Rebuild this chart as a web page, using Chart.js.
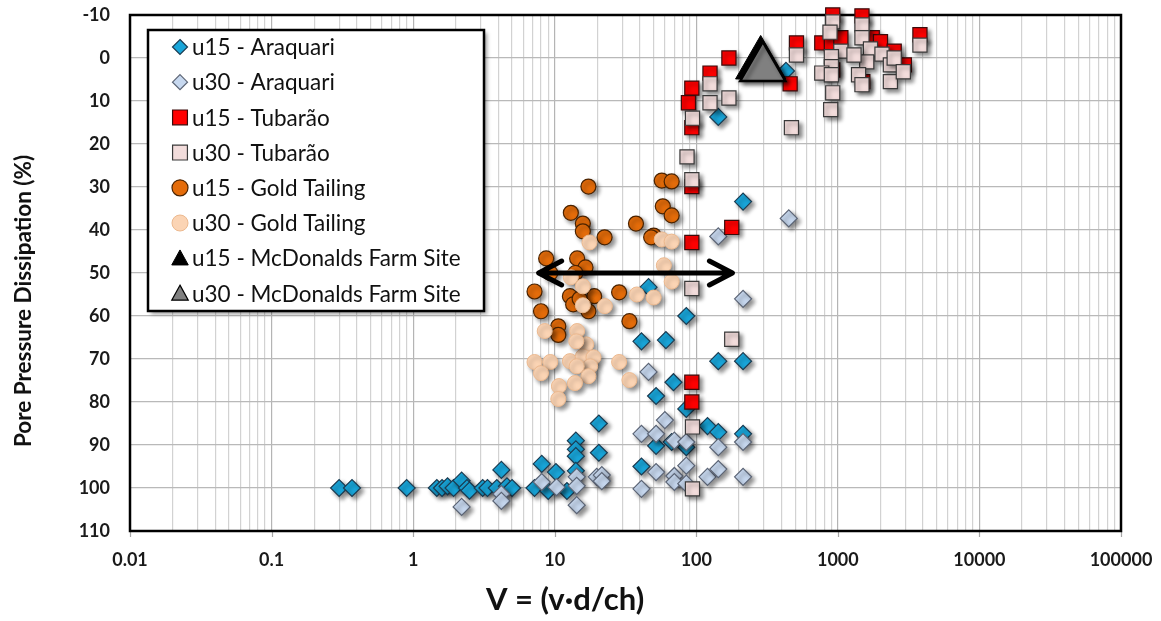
<!DOCTYPE html>
<html>
<head>
<meta charset="utf-8">
<title>Pore Pressure Dissipation vs V</title>
<script src="https://cdn.jsdelivr.net/npm/chart.js@4.4.1/dist/chart.umd.min.js"></script>
<style>
  html, body { margin: 0; padding: 0; background: #ffffff; }
  canvas { display: block; }
</style>
</head>
<body>
<canvas id="chart" width="1161" height="621"></canvas>
<script>
// ---- series names ----
const seriesNames = [
  'u15 - Araquari', 'u30 - Araquari',
  'u15 - Tubarão', 'u30 - Tubarão',
  'u15 - Gold Tailing', 'u30 - Gold Tailing',
  'u15 - McDonalds Farm Site', 'u30 - McDonalds Farm Site'
];

// ---- data: normalised velocity V and pore pressure dissipation (%) ----
const u15AraquariV = [0.30, 0.37, 0.9, 1.47, 1.6, 1.75, 1.93, 2.2, 2.4, 2.5, 3.1, 3.35, 3.9, 4.2, 4.6, 5.0, 7.2, 8.1, 9.0, 10.2, 12.2, 14.1, 14.1, 14.1, 14.1, 20.5, 20.5, 41, 52, 67, 85, 85, 120, 143, 214, 85, 41, 61, 143, 214, 69, 52, 214, 46, 430, 143];
const u15AraquariU = [100, 100, 100, 100, 100, 99.6, 100, 98.3, 100, 100.6, 100, 100, 100, 95.8, 99.6, 100, 100, 94.4, 100.7, 96.3, 100.7, 89, 91, 92.6, 96, 85, 91.8, 95, 90.2, 89.3, 90.5, 81.6, 85.6, 87, 87.4, 60, 65.9, 65.6, 70.5, 70.5, 75.4, 78.6, 33.4, 53.3, 3, 13.7];

const u30AraquariV = [2.2, 4.2, 4.2, 8.1, 10.3, 14.3, 14.3, 14.3, 19.8, 21.5, 21.5, 41, 52, 60, 41, 52, 70, 70, 70, 85, 85, 85, 120, 143, 143, 214, 214, 214, 46, 143, 450];
const u30AraquariU = [104.4, 101.4, 103, 98.6, 99.8, 97.4, 99.5, 104, 97.4, 97, 98.4, 87.4, 87.4, 84.2, 100.2, 96.3, 89, 97.2, 98.6, 89.3, 94.8, 99, 97.4, 95.6, 90.5, 89.3, 97.4, 56, 73, 41.5, 37.3];

const u15TubaraoV = [93, 178, 93, 93, 93, 93, 88, 93, 125, 170, 460, 510, 920, 770, 900, 1050, 1480, 1750, 2000, 2500, 2950, 3800, 920, 1500];
const u15TubaraoU = [42.9, 39.4, 29.9, 75.4, 80, 7, 10.4, 16.2, 3.5, 0, 6, -3.5, -10, -3.5, -3.3, -4.7, -9.8, -4.7, -3.8, -1.6, 1.6, -5.4, 2.8, 5.5];

const u30TubaraoV = [93, 93, 86, 178, 94, 94, 94, 125, 125, 170, 510, 470, 920, 880, 1050, 900, 900, 770, 900, 920, 1480, 1480, 1700, 1600, 1400, 1480, 2050, 2350, 2350, 2500, 2900, 3800, 1300, 890];
const u30TubaraoU = [28.3, 53.6, 23, 65.4, 85.8, 100.2, 14, 6, 10.4, 9.3, -0.7, 16.2, -8.4, -6, -1.6, -0.3, 2, 3.5, 3.9, 8.1, -7.7, -4.7, -2.1, 0.9, 3.9, 6.2, -0.9, 1.6, 5.5, 0, 3.2, -3, -0.7, 12];

const u15GoldV = [17.3, 57, 67, 58, 67, 13, 15.8, 15.8, 22.5, 37.5, 50, 48, 8.7, 14.4, 16.5, 14, 9.3, 7.2, 12.8, 19, 28.5, 8.0, 13.5, 17.3, 33.7, 10.6, 10.6, 15];
const u15GoldU = [29.9, 28.5, 28.7, 34.5, 36.6, 36, 38.5, 40.3, 41.7, 38.5, 41.3, 41.7, 46.6, 46.6, 48.7, 50, 50, 54.3, 55.4, 55.4, 54.5, 58.9, 57.3, 58.9, 61.2, 62.4, 64.4, 56];

const u30GoldV = [17.6, 57, 67, 59, 67, 38, 50, 13, 15.8, 15.8, 22.6, 8.5, 14.4, 16.7, 7.2, 9.3, 8, 12.8, 15.8, 18.8, 17.8, 14.3, 17.3, 28.5, 33.7, 10.7, 13.9, 10.6, 14.2];
const u30GoldU = [42.9, 42.2, 42.7, 48.2, 52, 55, 55.7, 51, 53.1, 57.5, 57.7, 63.5, 63.5, 66.6, 70.7, 70.7, 73.3, 70.5, 69.4, 69.6, 71.7, 71.7, 74, 70.7, 74.9, 76.3, 75.6, 79.3, 65.9];

const u15McDonaldsV = [285];
const u15McDonaldsU = [1.5];
const u30McDonaldsV = [295];
const u30McDonaldsU = [2.3];

// ---- axis tick labels ----
const xDecadeLabels = ['0.01', '0.1', '1', '10', '100', '1000', '10000', '100000'];
const xMinorMultiples = [2, 3, 4, 5, 6, 7, 8, 9];
const yTickStep = 10;
const yRange = [-10, 110];

// ---- annotation arrow (in data units) ----
const arrowSpanV = [7.7, 180];
const arrowLevelU = 50;

// ---- marker appearance per series ----
const markerStyles = [
  { shape: 'rectRot',  radius: 8.5, fill: '#19a6da', line: '#1b3c52', width: 1.2 },
  { shape: 'rectRot',  radius: 8.5, fill: '#c7d8ef', line: '#5b6475', width: 1.2 },
  { shape: 'rect',     radius: 10,  fill: '#ff0000', line: '#3b0b0b', width: 1.2 },
  { shape: 'rect',     radius: 10,  fill: '#f2dcdb', line: '#3a3a3a', width: 1.2 },
  { shape: 'circle',   radius: 7.5, fill: '#e46c0a', line: '#4a2300', width: 1.2 },
  { shape: 'circle',   radius: 7.5, fill: '#fbd4b4', line: '#ecb98f', width: 1.0 },
  { shape: 'triangle', radius: 29,  fill: '#000000', line: '#000000', width: 1.0 },
  { shape: 'triangle', radius: 26,  fill: '#808080', line: '#000000', width: 2.5 }
];

const seriesV = [u15AraquariV, u30AraquariV, u15TubaraoV, u30TubaraoV, u15GoldV, u30GoldV, u15McDonaldsV, u30McDonaldsV];
const seriesU = [u15AraquariU, u30AraquariU, u15TubaraoU, u30TubaraoU, u15GoldU, u30GoldU, u15McDonaldsU, u30McDonaldsU];

const decadeValues = xDecadeLabels.map(Number);
const xGridValues = [];
decadeValues.forEach((d, i) => {
  xGridValues.push(d);
  if (i < decadeValues.length - 1) xMinorMultiples.forEach(m => xGridValues.push(+(d * m).toPrecision(6)));
});
const isDecade = v => decadeValues.some(d => Math.abs(v / d - 1) < 1e-6);

const FONT = 'Lato, "Open Sans", "DejaVu Sans", sans-serif';
const N = seriesNames.length;

const datasets = seriesNames.map((name, i) => {
  const s = markerStyles[i];
  return {
    label: name,
    data: seriesV[i].map((v, k) => ({ x: v, y: seriesU[i][k] })),
    pointStyle: s.shape,
    pointRadius: s.radius,
    pointHoverRadius: s.radius,
    backgroundColor: s.fill,
    borderColor: s.line,
    pointBorderWidth: s.width,
    borderWidth: s.width,
    showLine: false,
    clip: false,
    order: N - i   // later series are painted over earlier ones
  };
});

// marker drawing used by the legend box
function drawMarker(ctx, shape, x, y, r, fill, line, width) {
  ctx.beginPath();
  if (shape === 'rectRot') {
    ctx.moveTo(x, y - r); ctx.lineTo(x + r, y); ctx.lineTo(x, y + r); ctx.lineTo(x - r, y);
    ctx.closePath();
  } else if (shape === 'rect') {
    const h = r * Math.SQRT1_2;
    ctx.rect(x - h, y - h, 2 * h, 2 * h);
  } else if (shape === 'circle') {
    ctx.arc(x, y, r, 0, Math.PI * 2);
  } else {
    const h = r * 1.5;
    ctx.moveTo(x, y - h * 0.55); ctx.lineTo(x + h * 0.55, y + h * 0.45); ctx.lineTo(x - h * 0.55, y + h * 0.45);
    ctx.closePath();
  }
  ctx.fillStyle = fill; ctx.fill();
  ctx.lineWidth = width; ctx.strokeStyle = line; ctx.stroke();
}

const decorations = {
  id: 'decorations',
  beforeDatasetsDraw(chart) {
    const { ctx, chartArea: a, scales } = chart;
    ctx.save();
    // short tick marks below the axis at each decade
    ctx.strokeStyle = '#a6a6a6';
    ctx.lineWidth = 1.2;
    ctx.beginPath();
    decadeValues.forEach(d => {
      const px = Math.round(scales.x.getPixelForValue(d)) + 0.5;
      ctx.moveTo(px, a.bottom); ctx.lineTo(px, a.bottom + 6);
    });
    ctx.stroke();
    // plot frame
    ctx.strokeStyle = '#000000';
    ctx.lineWidth = 2.5;
    ctx.strokeRect(a.left, a.top, a.right - a.left, a.bottom - a.top);
    ctx.restore();
    // soft drop shadow under the markers
    ctx.save();
    ctx.shadowColor = 'rgba(0,0,0,0.45)';
    ctx.shadowBlur = 4;
    ctx.shadowOffsetX = 3;
    ctx.shadowOffsetY = 3;
  },
  afterDatasetsDraw(chart) {
    chart.ctx.restore();
  },
  afterDraw(chart) {
    const { ctx, chartArea: a, scales } = chart;

    // double-headed arrow
    const x0 = scales.x.getPixelForValue(arrowSpanV[0]);
    const x1 = scales.x.getPixelForValue(arrowSpanV[1]);
    const yA = scales.y.getPixelForValue(arrowLevelU);
    ctx.save();
    ctx.strokeStyle = '#000000';
    ctx.lineWidth = 5;
    ctx.lineCap = 'round';
    ctx.lineJoin = 'round';
    ctx.beginPath();
    ctx.moveTo(x0 + 2, yA); ctx.lineTo(x1 - 2, yA);
    ctx.moveTo(x0 + 23, yA - 12); ctx.lineTo(x0, yA); ctx.lineTo(x0 + 23, yA + 12);
    ctx.moveTo(x1 - 23, yA - 12); ctx.lineTo(x1, yA); ctx.lineTo(x1 - 23, yA + 12);
    ctx.stroke();
    ctx.restore();

    // legend box
    const lx = a.left + 18, ly = a.top + 15, lw = 336, lh = 281;
    ctx.save();
    ctx.shadowColor = 'rgba(0,0,0,0.4)';
    ctx.shadowBlur = 4;
    ctx.shadowOffsetX = 3;
    ctx.shadowOffsetY = 3;
    ctx.fillStyle = '#ffffff';
    ctx.fillRect(lx, ly, lw, lh);
    ctx.restore();
    ctx.save();
    ctx.strokeStyle = '#000000';
    ctx.lineWidth = 2.5;
    ctx.strokeRect(lx, ly, lw, lh);
    ctx.font = '22.5px ' + FONT;
    ctx.fillStyle = '#111111';
    ctx.textBaseline = 'middle';
    ctx.textAlign = 'left';
    seriesNames.forEach((name, i) => {
      const s = markerStyles[i];
      const cy = ly + 17 + i * 35.2;
      const r = s.shape === 'rectRot' ? 7.5 : s.shape === 'rect' ? 10.5 : s.shape === 'circle' ? 8 : 10;
      drawMarker(ctx, s.shape, lx + 32, cy, r, s.fill, s.line, Math.min(s.width, 1.2));
      ctx.fillStyle = '#111111';
      ctx.fillText(name, lx + 44, cy + 1);
    });
    ctx.restore();

    // axis titles
    ctx.save();
    ctx.fillStyle = '#111111';
    ctx.textAlign = 'center';
    ctx.textBaseline = 'middle';
    ctx.font = 'bold 31px ' + FONT;
    ctx.fillText('V = (v·d/ch)', a.left + 0.439 * (a.right - a.left), a.bottom + 69);
    ctx.translate(24, a.top + 286);
    ctx.rotate(-Math.PI / 2);
    ctx.font = 'bold 22.5px ' + FONT;
    ctx.fillText('Pore Pressure Dissipation (%)', 0, 0);
    ctx.restore();
  }
};

new Chart(document.getElementById('chart'), {
  type: 'scatter',
  data: { datasets },
  options: {
    responsive: false,
    devicePixelRatio: 1,
    animation: false,
    events: [],
    layout: { autoPadding: false, padding: { top: 15, right: 40, left: 0, bottom: 0 } },
    plugins: {
      legend: { display: false },
      tooltip: { enabled: false },
      title: { display: false }
    },
    scales: {
      x: {
        type: 'logarithmic',
        position: 'bottom',
        min: decadeValues[0],
        max: decadeValues[decadeValues.length - 1],
        afterBuildTicks: scale => { scale.ticks = xGridValues.map(v => ({ value: v })); },
        afterFit: scale => { scale.height = 90; },
        ticks: {
          autoSkip: false,
          maxRotation: 0,
          padding: 1,
          color: '#1a1a1a',
          font: { family: FONT, size: 18, weight: 'bold' },
          callback: value => {
            const k = decadeValues.findIndex(d => Math.abs(value / d - 1) < 1e-6);
            return k >= 0 ? xDecadeLabels[k] : '';
          }
        },
        grid: {
          color: c => (c.tick && isDecade(c.tick.value)) ? '#b4b4b4' : '#d2d2d2',
          lineWidth: 1.2,
          tickLength: 17,
          tickColor: 'rgba(0,0,0,0)'
        },
        border: { display: false }
      },
      y: {
        type: 'linear',
        reverse: true,
        min: yRange[0],
        max: yRange[1],
        afterFit: scale => { scale.width = 130; },
        ticks: {
          stepSize: yTickStep,
          padding: 2,
          color: '#1a1a1a',
          font: { family: FONT, size: 18, weight: 'bold' }
        },
        grid: {
          color: '#b9b9b9',
          lineWidth: 1.2,
          tickLength: 18,
          tickColor: 'rgba(0,0,0,0)'
        },
        border: { display: false }
      }
    }
  },
  plugins: [decorations]
});
</script>
</body>
</html>
